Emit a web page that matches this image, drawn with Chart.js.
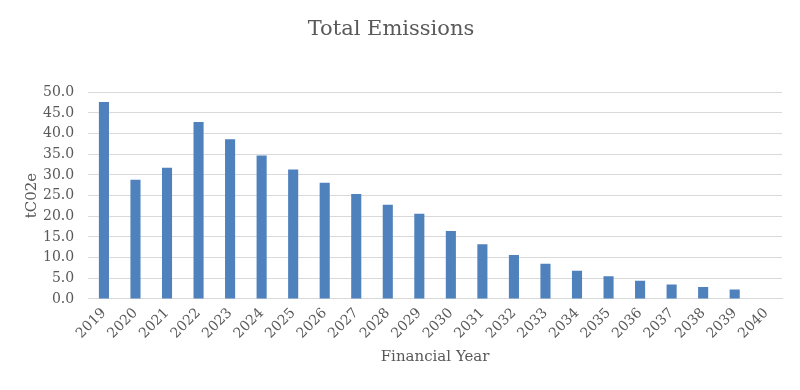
<!DOCTYPE html>
<html>
<head>
<meta charset="utf-8">
<script src="https://cdn.jsdelivr.net/npm/chart.js@4/dist/chart.umd.min.js"></script>
<style>
  html, body { margin: 0; padding: 0; background: #fff; }
  #wrap { width: 800px; height: 390px; }
</style>
</head>
<body>
<div id="wrap"><canvas id="barChart" width="800" height="390"></canvas></div>
<script>
const years = ['2019', '2020', '2021', '2022', '2023', '2024', '2025', '2026', '2027', '2028', '2029',
  '2030', '2031', '2032', '2033', '2034', '2035', '2036', '2037', '2038', '2039', '2040'];
const emissions = [47.6, 28.8, 31.7, 42.8, 38.6, 34.7, 31.3, 28.1, 25.4, 22.8, 20.6,
  16.4, 13.2, 10.6, 8.5, 6.8, 5.5, 4.4, 3.5, 2.9, 2.3, 0];

const textGrey = '#595959';
const serif = "'DejaVu Serif', 'Liberation Serif', serif";

const ctx = document.getElementById('barChart').getContext('2d');
const myBarChart = new Chart(ctx, {
  type: 'bar',
  data: {
    labels: years,
    datasets: [{
      label: 'Total Emissions',
      data: emissions,
      backgroundColor: '#4F81BD',
      borderWidth: 0,
      barPercentage: 0.32,
      categoryPercentage: 1,
    }],
  },
  options: {
    responsive: false,
    animation: false,
    layout: { padding: { left: 0, right: 18, top: 10, bottom: 20 } },
    plugins: {
      legend: { display: false },
      tooltip: { enabled: false },
      title: {
        display: true,
        text: 'Total Emissions',
        color: textGrey,
        font: { family: serif, size: 21, weight: 'normal' },
        padding: { top: 7, bottom: 50 },
      },
    },
    scales: {
      x: {
        grid: { display: false, drawTicks: false },
        border: { color: '#d9d9d9', width: 1 },
        ticks: {
          color: textGrey,
          font: { family: serif, size: 14 },
          maxRotation: 45,
          minRotation: 45,
          padding: 6,
          autoSkip: false,
        },
        title: {
          display: true,
          text: 'Financial Year',
          color: textGrey,
          font: { family: serif, size: 15 },
          padding: { top: 0 },
        },
      },
      y: {
        min: 0,
        max: 50,
        grid: { color: '#d9d9d9', drawTicks: false },
        border: { display: false },
        ticks: {
          stepSize: 5,
          autoSkip: false,
          color: textGrey,
          font: { family: serif, size: 14 },
          padding: 14,
          callback: (v) => v.toFixed(1),
        },
        title: {
          display: true,
          text: 'tC02e',
          color: textGrey,
          font: { family: serif, size: 15 },
          padding: { top: 23, bottom: -12 },
        },
      },
    },
  },
});
</script>
</body>
</html>
